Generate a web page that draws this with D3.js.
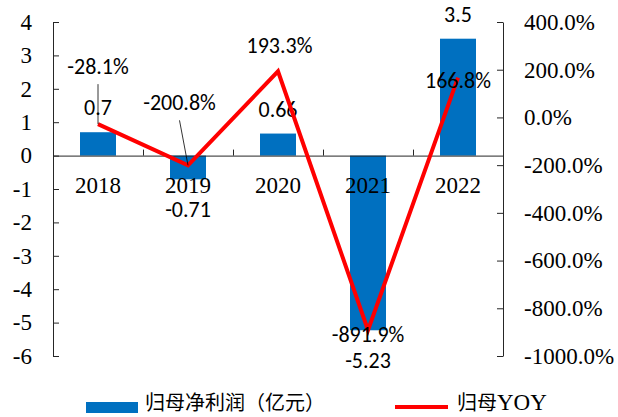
<!DOCTYPE html>
<html>
<head>
<meta charset="utf-8">
<script src="https://cdn.jsdelivr.net/npm/d3@7"></script>
<style>
  html, body { margin: 0; padding: 0; background: #fff; }
</style>
</head>
<body>
<div id="chart"></div>
<script>

// Data
var years = ['2018', '2019', '2020', '2021', '2022'];
var netProfit = [0.7, -0.71, 0.66, -5.23, 3.5];        // 归母净利润（亿元）
var yoy = [-28.1, -200.8, 193.3, -891.9, 166.8];        // 归母YOY, %
var leftTicks = [4, 3, 2, 1, 0, -1, -2, -3, -4, -5, -6];
var rightTicks = [400, 200, 0, -200, -400, -600, -800, -1000];
var barLegend = '归母净利润（亿元）';
var lineLegend = ['归母', 'YOY'];

// manual label nudges (px) as placed in the original, [dx, dy] from the point
var yoyLabelNudge = [[0, -50], [-8.5, -55], [1.5, -18], [0, 12], [0, 10.5]];
var yoyLeader = [true, true, false, false, false];

function renderChart() {

  // Exposed variables
  var attrs = {
    svgWidth: 618,
    svgHeight: 417,
    marginTop: 22,
    marginBottom: 61,
    marginLeft: 53,
    marginRight: 115,
    container: '#chart',
    serifFont: 'Liberation Serif, serif',
    labelFont: 'Carlito, Lato, sans-serif',
    cjkFont: 'Noto Sans CJK SC, sans-serif',
    axisColor: '#262626',
    barColor: '#0070C0',
    lineColor: '#FF0000'
  };

  // Calculated properties
  var calc = {};
  calc.chartWidth = attrs.svgWidth - attrs.marginLeft - attrs.marginRight;
  calc.chartHeight = attrs.svgHeight - attrs.marginTop - attrs.marginBottom;

  //#########################  SCALES  ########################
  var scales = {};

  scales.x = d3.scaleBand()
    .domain(years)
    .range([0, calc.chartWidth])
    .padding(0);

  scales.yLeft = d3.scaleLinear()
    .domain([-6, 4])
    .range([calc.chartHeight, 0]);

  scales.yRight = d3.scaleLinear()
    .domain([-1000, 400])
    .range([calc.chartHeight, 0]);

  calc.barWidth = scales.x.bandwidth() * 0.4;
  calc.zeroY = scales.yLeft(0);

  //###########################  AXES  ########################
  var axes = {};

  axes.left = d3.axisLeft(scales.yLeft)
    .tickValues(leftTicks)
    .tickSizeInner(-6)
    .tickSizeOuter(0)
    .tickPadding(21)
    .tickFormat(function (d) { return String(d); });   // plain hyphen, like the original

  axes.right = d3.axisRight(scales.yRight)
    .tickValues(rightTicks)
    .tickSizeInner(-6)
    .tickSizeOuter(0)
    .tickPadding(21)
    .tickFormat(function (d) { return d.toFixed(1) + '%'; });

  axes.x = d3.axisBottom(scales.x)
    .tickSize(0)
    .tickPadding(21);

  // Drawing containers
  var svg = d3.select(attrs.container).append('svg')
    .attr('width', attrs.svgWidth)
    .attr('height', attrs.svgHeight)
    .style('display', 'block');

  var chart = svg.append('g')
    .attr('transform', 'translate(' + attrs.marginLeft + ',' + attrs.marginTop + ')');

  // bars
  chart.append('g').selectAll('rect')
    .data(netProfit)
    .enter().append('rect')
    .attr('x', function (d, i) { return scales.x(years[i]) + (scales.x.bandwidth() - calc.barWidth) / 2; })
    .attr('y', function (d) { return Math.min(scales.yLeft(d), calc.zeroY); })
    .attr('width', calc.barWidth)
    .attr('height', function (d) { return Math.abs(scales.yLeft(d) - calc.zeroY); })
    .attr('fill', attrs.barColor);

  // left axis
  var leftAxis = chart.append('g').call(axes.left);
  styleAxis(leftAxis, attrs.serifFont, 23);

  // right axis
  var rightAxis = chart.append('g')
    .attr('transform', 'translate(' + calc.chartWidth + ',0)')
    .call(axes.right);
  styleAxis(rightAxis, attrs.serifFont, 23);

  // category axis on the zero line
  var xAxis = chart.append('g')
    .attr('transform', 'translate(0,' + calc.zeroY + ')')
    .call(axes.x);
  styleAxis(xAxis, attrs.serifFont, 23);

  // tick marks between categories, pointing up
  xAxis.selectAll('.sep')
    .data(years.slice(1))
    .enter().append('line')
    .attr('class', 'sep')
    .attr('x1', function (d) { return scales.x(d) + 0.5; })
    .attr('x2', function (d) { return scales.x(d) + 0.5; })
    .attr('y1', 0)
    .attr('y2', -6)
    .attr('stroke', attrs.axisColor);

  // bar value labels
  chart.append('g').selectAll('text')
    .data(netProfit)
    .enter().append('text')
    .attr('x', function (d, i) { return scales.x(years[i]) + scales.x.bandwidth() / 2; })
    .attr('y', function (d) { return d >= 0 ? scales.yLeft(d) - 17 : scales.yLeft(d) + 38; })
    .attr('text-anchor', 'middle')
    .style('font-family', attrs.labelFont)
    .style('font-size', '22px')
    .attr('fill', '#000')
    .text(function (d) { return d; });

  // yoy line
  var line = d3.line()
    .x(function (d, i) { return scales.x(years[i]) + scales.x.bandwidth() / 2; })
    .y(function (d) { return scales.yRight(d); });

  chart.append('path')
    .datum(yoy)
    .attr('d', line)
    .attr('fill', 'none')
    .attr('stroke', attrs.lineColor)
    .attr('stroke-width', 4)
    .attr('stroke-linejoin', 'miter');

  // leader lines for moved labels
  chart.append('g').selectAll('line')
    .data(yoy.map(function (d, i) { return { v: d, i: i }; }).filter(function (d) { return yoyLeader[d.i]; }))
    .enter().append('line')
    .attr('x1', function (d) { return scales.x(years[d.i]) + scales.x.bandwidth() / 2 + yoyLabelNudge[d.i][0]; })
    .attr('y1', function (d) { return scales.yRight(d.v) + yoyLabelNudge[d.i][1] + 10; })
    .attr('x2', function (d) { return scales.x(years[d.i]) + scales.x.bandwidth() / 2; })
    .attr('y2', function (d) { return scales.yRight(d.v); })
    .attr('stroke', '#000')
    .attr('stroke-width', 0.8);

  // yoy labels
  chart.append('g').selectAll('text')
    .data(yoy)
    .enter().append('text')
    .attr('x', function (d, i) { return scales.x(years[i]) + scales.x.bandwidth() / 2 + yoyLabelNudge[i][0]; })
    .attr('y', function (d, i) { return scales.yRight(d) + yoyLabelNudge[i][1]; })
    .attr('text-anchor', 'middle')
    .style('font-family', attrs.labelFont)
    .style('font-size', '22px')
    .attr('fill', '#000')
    .text(function (d) { return d.toFixed(1) + '%'; });

  //###########################  LEGEND  ########################
  var legend = svg.append('g').attr('transform', 'translate(0,403)');

  legend.append('rect')
    .attr('x', 86).attr('y', -1)
    .attr('width', 52).attr('height', 11)
    .attr('fill', attrs.barColor);

  legend.append('text')
    .attr('x', 145).attr('dy', '0.35em')
    .style('font-family', attrs.cjkFont)
    .style('font-size', '20px')
    .text(barLegend);

  legend.append('line')
    .attr('x1', 395).attr('x2', 448)
    .attr('y1', 4).attr('y2', 4)
    .attr('stroke', attrs.lineColor)
    .attr('stroke-width', 4);

  var lineText = legend.append('text')
    .attr('x', 457).attr('dy', '0.35em')
    .style('font-size', '20px');
  lineText.append('tspan').style('font-family', attrs.cjkFont).text(lineLegend[0]);
  lineText.append('tspan').style('font-family', attrs.serifFont).style('font-size', '23px').text(lineLegend[1]);

  //#########################  UTIL FUNCS  ########################
  function styleAxis(sel, font, size) {
    sel.attr('font-family', null).attr('font-size', null);
    sel.selectAll('.domain').attr('stroke', attrs.axisColor).attr('stroke-width', 1);
    sel.selectAll('.tick line').attr('stroke', attrs.axisColor);
    sel.selectAll('text')
      .style('font-family', font)
      .style('font-size', size + 'px')
      .attr('fill', '#000');
  }
}

renderChart();
</script>
</body>
</html>
